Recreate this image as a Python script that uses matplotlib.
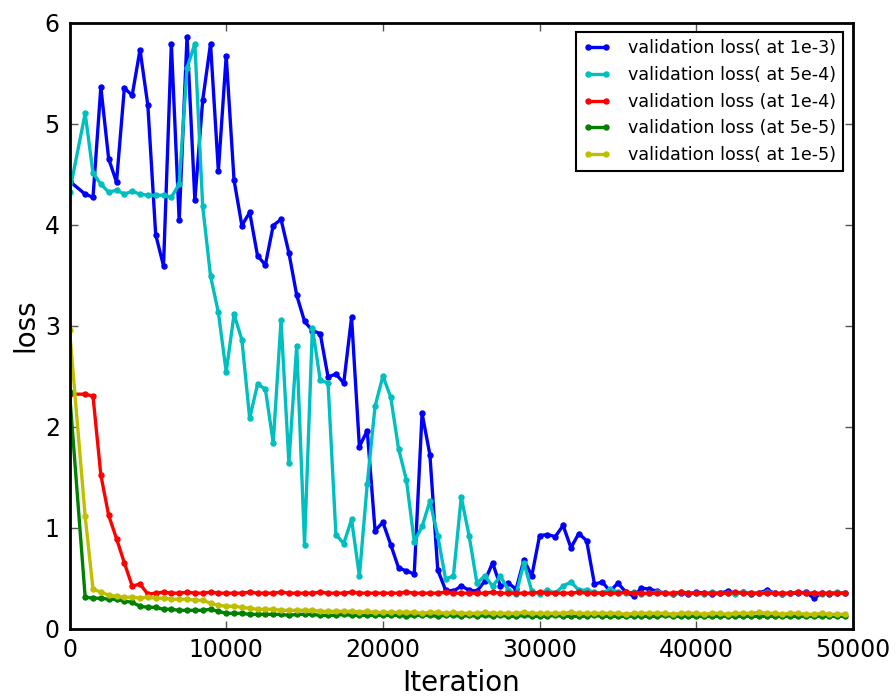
import numpy as np
import matplotlib
matplotlib.use('Agg')
import matplotlib.pyplot as plt

# evaluation iterations: 0, then every 500 from 1000 on
iterations = np.r_[0, np.arange(1000, 50000, 500)]

loss_1e3 = [4.43, 4.30, 4.27, 5.36, 4.65, 4.42, 5.35, 5.28, 5.73, 5.18,
            3.90, 3.59, 5.79, 4.04, 5.86, 4.24, 5.23, 5.79, 4.53, 5.67,
            4.44, 3.99, 4.12, 3.69, 3.60, 3.99, 4.05, 3.72, 3.30, 3.04,
            2.95, 2.92, 2.49, 2.52, 2.43, 3.08, 1.80, 1.96, 0.97, 1.05,
            0.83, 0.60, 0.57, 0.54, 2.13, 1.72, 0.58, 0.38, 0.37, 0.42,
            0.38, 0.37, 0.47, 0.65, 0.42, 0.45, 0.39, 0.68, 0.52, 0.92,
            0.93, 0.91, 1.02, 0.80, 0.94, 0.87, 0.44, 0.46, 0.37, 0.45,
            0.36, 0.32, 0.40, 0.39, 0.37, 0.35, 0.34, 0.35, 0.34, 0.36,
            0.35, 0.34, 0.35, 0.37, 0.35, 0.36, 0.34, 0.35, 0.38, 0.35,
            0.34, 0.35, 0.35, 0.36, 0.30, 0.35, 0.34, 0.35, 0.35]

loss_5e4 = [4.32, 5.10, 4.51, 4.40, 4.32, 4.34, 4.30, 4.33, 4.30, 4.29,
            4.29, 4.29, 4.27, 4.40, 5.55, 5.79, 4.18, 3.49, 3.13, 2.54,
            3.11, 2.86, 2.08, 2.42, 2.37, 1.84, 3.05, 1.64, 2.80, 0.83,
            2.98, 2.46, 2.43, 0.93, 0.84, 1.08, 0.52, 1.43, 2.20, 2.50,
            2.29, 1.78, 1.47, 0.86, 1.01, 1.26, 0.92, 0.49, 0.52, 1.30,
            0.92, 0.45, 0.52, 0.42, 0.52, 0.38, 0.34, 0.65, 0.37, 0.34,
            0.38, 0.35, 0.42, 0.46, 0.38, 0.38, 0.36, 0.35, 0.39, 0.36,
            0.35, 0.36, 0.34, 0.35, 0.36, 0.35, 0.34, 0.36, 0.35, 0.35,
            0.34, 0.36, 0.35, 0.35, 0.34, 0.36, 0.35, 0.35, 0.36, 0.35,
            0.34, 0.35, 0.36, 0.35, 0.35, 0.34, 0.35, 0.36, 0.35]

loss_1e4 = [2.32, 2.32, 2.30, 1.52, 1.12, 0.89, 0.65, 0.42, 0.44, 0.34,
            0.35, 0.36, 0.35, 0.35, 0.36, 0.35, 0.35, 0.36, 0.35, 0.35,
            0.35, 0.35, 0.36, 0.35, 0.35, 0.35, 0.36, 0.35, 0.35, 0.35,
            0.35, 0.36, 0.35, 0.35, 0.35, 0.36, 0.35, 0.35, 0.35, 0.35,
            0.35, 0.35, 0.36, 0.35, 0.35, 0.35, 0.35, 0.36, 0.35, 0.35,
            0.35, 0.35, 0.35, 0.36, 0.35, 0.35, 0.35, 0.35, 0.35, 0.36,
            0.35, 0.35, 0.35, 0.35, 0.36, 0.35, 0.35, 0.35, 0.35, 0.35,
            0.36, 0.35, 0.35, 0.35, 0.35, 0.35, 0.35, 0.36, 0.35, 0.35,
            0.35, 0.35, 0.35, 0.35, 0.36, 0.35, 0.35, 0.35, 0.35, 0.35,
            0.35, 0.35, 0.36, 0.35, 0.35, 0.35, 0.35, 0.35, 0.35]

loss_5e5 = [2.34, 0.31, 0.30, 0.30, 0.29, 0.29, 0.27, 0.26, 0.22, 0.21,
            0.21, 0.19, 0.19, 0.18, 0.18, 0.18, 0.18, 0.19, 0.17, 0.15,
            0.15, 0.15, 0.14, 0.14, 0.14, 0.14, 0.14, 0.13, 0.14, 0.14,
            0.14, 0.13, 0.13, 0.13, 0.14, 0.13, 0.13, 0.13, 0.13, 0.13,
            0.13, 0.13, 0.12, 0.13, 0.13, 0.13, 0.12, 0.13, 0.13, 0.12,
            0.13, 0.12, 0.13, 0.12, 0.13, 0.12, 0.12, 0.13, 0.12, 0.12,
            0.12, 0.13, 0.12, 0.12, 0.12, 0.12, 0.13, 0.12, 0.12, 0.12,
            0.12, 0.12, 0.12, 0.12, 0.12, 0.13, 0.12, 0.12, 0.12, 0.12,
            0.12, 0.12, 0.12, 0.12, 0.12, 0.12, 0.12, 0.12, 0.12, 0.12,
            0.12, 0.12, 0.12, 0.12, 0.12, 0.12, 0.12, 0.12, 0.12]

loss_1e5 = [2.96, 1.11, 0.39, 0.36, 0.33, 0.32, 0.31, 0.31, 0.30, 0.31,
            0.30, 0.30, 0.29, 0.29, 0.29, 0.28, 0.28, 0.25, 0.23, 0.22,
            0.22, 0.21, 0.20, 0.19, 0.19, 0.19, 0.18, 0.18, 0.18, 0.18,
            0.18, 0.17, 0.17, 0.17, 0.17, 0.17, 0.16, 0.17, 0.16, 0.16,
            0.16, 0.16, 0.16, 0.16, 0.15, 0.16, 0.16, 0.15, 0.16, 0.15,
            0.15, 0.15, 0.16, 0.15, 0.15, 0.15, 0.15, 0.16, 0.15, 0.15,
            0.15, 0.15, 0.15, 0.16, 0.15, 0.15, 0.15, 0.15, 0.15, 0.15,
            0.14, 0.15, 0.15, 0.15, 0.15, 0.15, 0.14, 0.15, 0.15, 0.15,
            0.14, 0.15, 0.15, 0.14, 0.15, 0.15, 0.15, 0.16, 0.15, 0.15,
            0.14, 0.15, 0.15, 0.14, 0.14, 0.15, 0.14, 0.14, 0.14]

labels = ['validation loss( at 1e-3)', 'validation loss( at 5e-4)',
          'validation loss (at 1e-4)', 'validation loss (at 5e-5)',
          'validation loss( at 1e-5)']
colors = ['#0000ff', '#00bfbf', '#ff0000', '#008000', '#bfbf00']

fig = plt.figure(figsize=(8.96, 6.96), dpi=100)
ax = fig.add_axes([69.5 / 896, 1 - 628.5 / 696, (853 - 69.5) / 896, (628.5 - 22.5) / 696])

series = [loss_1e3, loss_5e4, loss_1e4, loss_5e5, loss_1e5]
for ys, lab, c in zip(series, labels, colors):
    ax.plot(iterations, ys, '-o', color=c, lw=2.4, ms=3.6, mec=c, label=lab)

ax.set_xlim(0, 50000)
ax.set_ylim(0, 6)
ax.set_xticks([0, 10000, 20000, 30000, 40000, 50000])
ax.set_yticks([0, 1, 2, 3, 4, 5, 6])
ax.tick_params(direction='in', top=True, right=True, length=5.5, width=1,
               labelsize=17, pad=7, color='#555555')
for sp in ax.spines.values():
    sp.set_linewidth(2)
ax.set_xlabel('Iteration', fontsize=20, labelpad=5)
ax.set_ylabel('loss', fontsize=20, labelpad=4)

leg = ax.legend(loc='upper right', fontsize=12.6, numpoints=2, fancybox=False,
                handlelength=1.6, handletextpad=1.0, labelspacing=0.5,
                borderaxespad=0.55, framealpha=1)
leg.get_frame().set_edgecolor('black')
leg.get_frame().set_linewidth(1.5)

fig.savefig('out.png', dpi=100)
